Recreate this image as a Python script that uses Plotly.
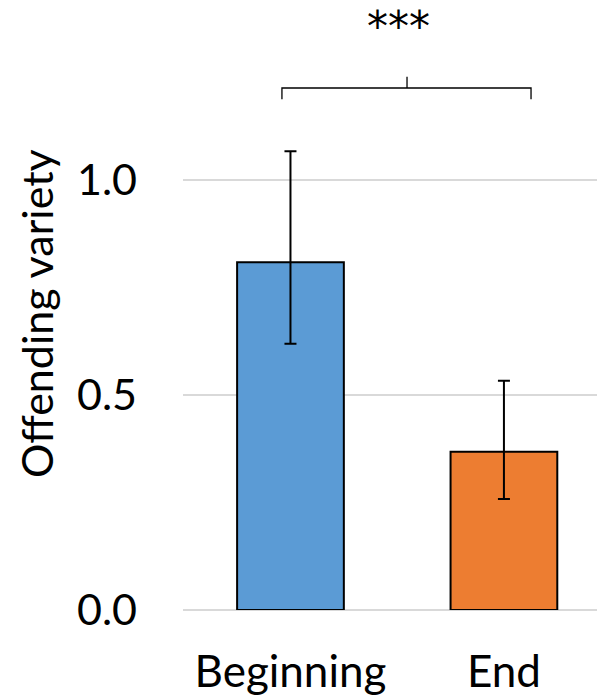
import plotly.graph_objects as go

categories = ["Beginning", "End"]
means = [0.809, 0.368]
err_upper = [1.067, 0.533]
err_lower = [0.619, 0.258]
colors = ["#5B9BD5", "#ED7D31"]
y_ticks = [0.0, 0.5, 1.0]
y_tick_labels = ["0.0", "0.5", "1.0"]
sig_label = "***"
y_title = "Offending variety"

plus = [u - m for u, m in zip(err_upper, means)]
minus = [m - l for m, l in zip(means, err_lower)]

FONT = "Lato"

fig = go.Figure()
fig.add_trace(go.Bar(
    x=[0, 1], y=means,
    marker=dict(color=colors, line=dict(color="black", width=2)),
    width=0.5,
    error_y=dict(type="data", symmetric=False, array=plus, arrayminus=minus,
                 color="black", thickness=2, width=6),
))

# significance bracket
xl, xr, xm = -0.04, 1.127, 0.546
yb, yt, ytick = 1.188, 1.214, 1.240
fig.add_shape(type="path",
              path=f"M {xl},{yb} L {xl},{yt} L {xr},{yt} L {xr},{yb}",
              line=dict(color="black", width=1.3), xref="x", yref="y")
fig.add_shape(type="line", x0=xm, x1=xm, y0=yt, y1=ytick,
              line=dict(color="black", width=1.3), xref="x", yref="y")
fig.add_annotation(x=0.508, y=1.357, text=sig_label, showarrow=False,
                   font=dict(family="DejaVu Sans", size=42, color="black"),
                   xref="x", yref="y")

# y-axis title as rotated annotation
fig.add_annotation(x=0, y=0.5, xref="paper", yref="paper",
                   xanchor="center", yanchor="middle",
                   xshift=-147, yshift=-5, textangle=-90,
                   text=y_title, showarrow=False,
                   font=dict(family=FONT, size=43, color="black"))

fig.update_layout(
    width=605, height=695,
    margin=dict(l=175, r=0, t=0, b=93),
    plot_bgcolor="white", paper_bgcolor="white",
    showlegend=False,
    font=dict(family=FONT, color="black"),
)
fig.update_xaxes(
    range=[-0.5035, 1.511],
    tickvals=[0, 1], ticktext=categories,
    tickfont=dict(family=FONT, size=44, color="black"),
    showgrid=False, zeroline=False, showline=False, ticks="",
    ticklabelstandoff=32,
)
fig.update_yaxes(
    range=[0, 1.4],
    tickvals=y_ticks, ticktext=y_tick_labels,
    tickfont=dict(family=FONT, size=43, color="black"),
    showgrid=True, gridcolor="#D9D9D9", gridwidth=2,
    zeroline=True, zerolinecolor="#D9D9D9", zerolinewidth=2,
    showline=False, ticks="",
    ticklabelstandoff=45,
)

fig.write_html("out.html")
